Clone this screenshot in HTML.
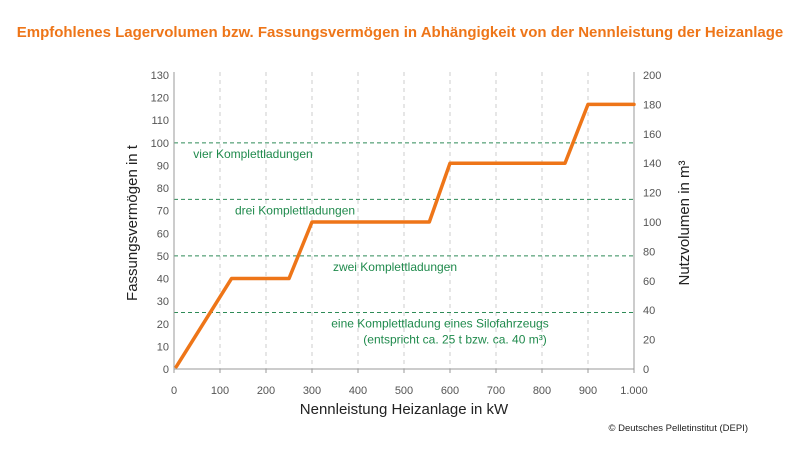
<!DOCTYPE html>
<html><head><meta charset="utf-8"><style>
body{margin:0;background:#fff;width:800px;height:463px;overflow:hidden;font-family:"Liberation Sans",sans-serif}
</style></head><body>
<svg id="chart" width="800" height="463" xmlns="http://www.w3.org/2000/svg" font-family="Liberation Sans, sans-serif">
<text x="400" y="37" text-anchor="middle" font-size="15" font-weight="bold" fill="#ee7518">Empfohlenes Lagervolumen bzw. Fassungsvermögen in Abhängigkeit von der Nennleistung der Heizanlage</text>
<g id="grid"></g><g id="axes"></g><g id="series"></g>
<text x="404" y="414" text-anchor="middle" font-size="15" fill="#222">Nennleistung Heizanlage in kW</text>
<text transform="translate(137,223) rotate(-90)" text-anchor="middle" font-size="15" fill="#222">Fassungsvermögen in t</text>
<text transform="translate(689,223) rotate(-90)" text-anchor="middle" font-size="15" fill="#222">Nutzvolumen in m³</text>
<text x="748" y="431" text-anchor="end" font-size="9.5" fill="#222">© Deutsches Pelletinstitut (DEPI)</text>
</svg>
<script>
const xTicks=[0,100,200,300,400,500,600,700,800,900,1000];
const xTickLabels=["0","100","200","300","400","500","600","700","800","900","1.000"];
const yTicks=[0,10,20,30,40,50,60,70,80,90,100,110,120,130];
const y2Ticks=[0,20,40,60,80,100,120,140,160,180,200];
const seriesKW=[5,125,250,300,555,600,850,900,1000];
const seriesT=[1,40,40,65,65,91,91,117,117];
const refLines=[25,50,75,100];
const refLabels=[["eine Komplettladung eines Silofahrzeugs","(entspricht ca. 25 t bzw. ca. 40 m³)"],["zwei Komplettladungen"],["drei Komplettladungen"],["vier Komplettladungen"]];
const refLabelX=[440,395,295,253];
const refLabelAnchor=["middle","middle","middle","middle"];
const X0=174,X1=634,Y0=369,Y1=75;
const xs=v=>X0+(v-0)/1000*(X1-X0);
const ys=v=>Y0-v/130*(Y0-Y1);
const ys2=v=>Y0-v/200*(Y0-Y1);
const NS="http://www.w3.org/2000/svg";
function mk(p,t,a){const e=document.createElementNS(NS,t);for(const k in a)e.setAttribute(k,a[k]);p.appendChild(e);return e;}
const grid=document.getElementById('grid'),axes=document.getElementById('axes'),ser=document.getElementById('series');
xTicks.forEach((v,i)=>{
  if(i>0&&i<xTicks.length-1){const l=mk(grid,'line',{x1:xs(v),x2:xs(v),y1:Y1-3,y2:Y0,stroke:'#ccc','stroke-dasharray':'4,4'});
  
  }
  const t=mk(axes,'text',{x:xs(v),y:Y0+25,'text-anchor':'middle','font-size':11,fill:'#555'});t.textContent=xTickLabels[i];
  
  
});
yTicks.forEach(v=>{const t=mk(axes,'text',{x:X0-5,y:ys(v)+4,'text-anchor':'end','font-size':11,fill:'#555'});t.textContent=v;
  
  });
y2Ticks.forEach(v=>{const t=mk(axes,'text',{x:X1+9,y:ys2(v)+4,'text-anchor':'start','font-size':11,fill:'#555'});t.textContent=v;
  
  });
refLines.forEach((v,i)=>{
  const l=mk(grid,'line',{x1:X0,x2:X1,y1:ys(v),y2:ys(v),stroke:'#2e8b57','stroke-dasharray':'4,3','stroke-width':1});
  
  
  refLabels[i].forEach((s,j)=>{
    const t=mk(grid,'text',{x:refLabelX[i]+(j?15:0),y:ys(v)+15+j*16,'text-anchor':refLabelAnchor[i],'font-size':12,fill:'#1f8a4c'});t.textContent=s;
    
    
  });
});
[[X0,Y1-3,X0,Y0],[X1,Y1-3,X1,Y0],[X0,Y0,X1,Y0]].forEach(a=>{const l=mk(axes,'line',{x1:a[0],y1:a[1],x2:a[2],y2:a[3],stroke:'#999'});
  
  });
xTicks.forEach(v=>{const l=mk(axes,'line',{x1:xs(v),x2:xs(v),y1:Y0,y2:Y0+4,stroke:'#999'});
  
  });
const pts=seriesKW.map((v,i)=>xs(v)+','+ys(seriesT[i])).join(' ');
const pl=mk(ser,'polyline',{points:pts,fill:'none',stroke:'#ee7518','stroke-width':3.5,'stroke-linecap':'round','stroke-linejoin':'round'});


</script>
</body></html>
